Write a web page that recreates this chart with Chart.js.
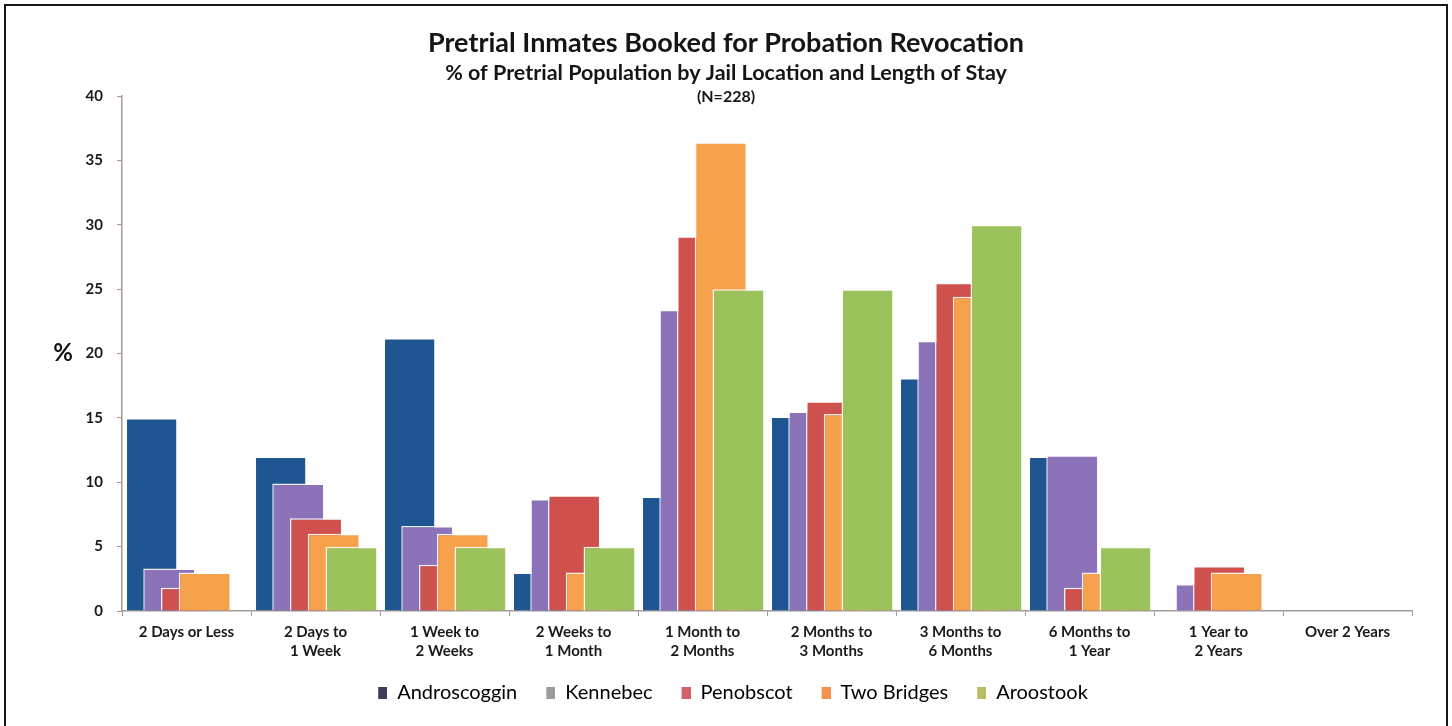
<!DOCTYPE html>
<html>
<head>
<meta charset="utf-8">
<title>Pretrial Inmates Booked for Probation Revocation</title>
<script src="https://cdn.jsdelivr.net/npm/chart.js@4.4.1/dist/chart.umd.min.js"></script>
<style>
  html, body { margin: 0; padding: 0; background: #ffffff; overflow: hidden; }
  #wrap { position: relative; width: 1452px; height: 726px; }
  #frame { position: absolute; left: 4px; top: 4px; width: 1440px; height: 740px;
           border: 2px solid #161616; pointer-events: none; }
</style>
</head>
<body>
<div id="wrap">
  <canvas id="chart"></canvas>
  <div id="frame"></div>
</div>
<script>
// Length-of-stay groups (x axis)
const categories = [
  "2 Days or Less",
  ["2 Days to", "1 Week"],
  ["1 Week to", "2 Weeks"],
  ["2 Weeks to", "1 Month"],
  ["1 Month to", "2 Months"],
  ["2 Months to", "3 Months"],
  ["3 Months to", "6 Months"],
  ["6 Months to", "1 Year"],
  ["1 Year to", "2 Years"],
  "Over 2 Years"
];

// Jail locations
const seriesNames = ["Androscoggin", "Kennebec", "Penobscot", "Two Bridges", "Aroostook"];

// % of each jail's pretrial probation-revocation population per length of stay
const androscoggin = [15.0, 12.0, 21.2, 3.0, 8.9, 15.1, 18.1, 12.0, 0, 0];
const kennebec     = [3.3, 9.9, 6.6, 8.7, 23.4, 15.5, 21.0, 12.1, 2.1, 0];
const penobscot    = [1.8, 7.2, 3.6, 9.0, 29.1, 16.3, 25.5, 1.8, 3.5, 0];
const twoBridges   = [3.0, 6.0, 6.0, 3.0, 36.4, 15.3, 24.4, 3.0, 3.0, 0];
const aroostook    = [0, 5.0, 5.0, 5.0, 25.0, 25.0, 30.0, 5.0, 0, 0];

// y axis ticks
const yTicks = [0, 5, 10, 15, 20, 25, 30, 35, 40];

const barColors    = ["#1f5591", "#8c72b9", "#cf514d", "#f6a14c", "#9cc35b"];
const legendColors = ["#403a5c", "#9b9b9b", "#d4606a", "#f4914f", "#b9bd66"];

const FONT = "Lato, 'Open Sans', 'DejaVu Sans', sans-serif";

const seriesValues = [androscoggin, kennebec, penobscot, twoBridges, aroostook];

const datasets = seriesNames.map((name, i) => ({
  label: name,
  data: seriesValues[i],
  backgroundColor: barColors[i],
  borderColor: "rgba(255,255,255,0.9)",
  borderWidth: { top: 1.5, left: 1.5, right: 0, bottom: 0 },
  borderSkipped: "bottom",
  barPercentage: 2.87,
  categoryPercentage: 0.688
}));

// Legend swatch: small square with some leading space before it
function swatch(color) {
  const c = document.createElement("canvas");
  c.width = 23;
  c.height = 12;
  const g = c.getContext("2d");
  g.fillStyle = color;
  g.fillRect(14, 0, 9, 12);
  return c;
}
const legendSwatches = legendColors.map(swatch);

// Overlapping columns: paint series left to right so each one sits over its neighbour
const seriesOrder = {
  id: "seriesOrder",
  beforeDatasetsDraw(chart) {
    for (let i = 0; i < chart.data.datasets.length; i++) {
      const meta = chart.getDatasetMeta(i);
      if (chart.isDatasetVisible(i)) meta.controller.draw();
    }
    return false;
  }
};

// Axis caption and sample size note
const annotations = {
  id: "annotations",
  afterDraw(chart) {
    const { ctx, chartArea } = chart;
    ctx.save();
    ctx.fillStyle = "#151515";
    ctx.textAlign = "center";
    ctx.textBaseline = "middle";
    ctx.font = "bold 24px " + FONT;
    ctx.fillText("%", chartArea.left - 59, (chartArea.top + chartArea.bottom) / 2);
    ctx.font = "bold 16px " + FONT;
    ctx.fillText("(N=228)", chart.width / 2, 97);
    ctx.restore();
  }
};

new Chart(document.getElementById("chart"), {
  type: "bar",
  data: { labels: categories, datasets },
  plugins: [seriesOrder, annotations],
  options: {
    responsive: true,
    maintainAspectRatio: false,
    animation: false,
    layout: { padding: { left: 40, right: 40, top: 5, bottom: 13 } },
    plugins: {
      title: {
        display: true,
        text: "Pretrial Inmates Booked for Probation Revocation",
        color: "#151515",
        font: { family: FONT, size: 27, weight: "bold", lineHeight: 1 },
        padding: { top: 25, bottom: 5 }
      },
      subtitle: {
        display: true,
        text: "% of Pretrial Population by Jail Location and Length of Stay",
        color: "#151515",
        font: { family: FONT, size: 21.5, weight: "bold", lineHeight: 1 },
        padding: { top: 0, bottom: 12.5 }
      },
      legend: {
        position: "bottom",
        labels: {
          color: "#1a1a1a",
          font: { family: FONT, size: 20 },
          usePointStyle: true,
          pointStyleWidth: 23,
          boxHeight: 12,
          padding: 15,
          generateLabels(chart) {
            return chart.data.datasets.map((ds, i) => ({
              text: ds.label,
              fillStyle: legendColors[i],
              strokeStyle: legendColors[i],
              lineWidth: 0,
              pointStyle: legendSwatches[i],
              hidden: !chart.isDatasetVisible(i),
              datasetIndex: i
            }));
          }
        }
      },
      tooltip: { enabled: false }
    },
    scales: {
      x: {
        grid: {
          display: true,
          drawOnChartArea: false,
          drawTicks: true,
          tickLength: 5,
          color: "#a09a98"
        },
        border: { display: true, color: "#a09a98", width: 1.5 },
        ticks: {
          color: "#1a1a1a",
          padding: 7,
          maxRotation: 0,
          autoSkip: false,
          font: { family: FONT, size: 15, weight: "bold", lineHeight: "19px" }
        }
      },
      y: {
        min: 0,
        max: 40,
        afterBuildTicks(scale) { scale.ticks = yTicks.map(v => ({ value: v })); },
        grid: {
          display: true,
          drawOnChartArea: false,
          drawTicks: true,
          tickLength: 5,
          color: "#a89890"
        },
        border: { display: true, color: "#a89890", width: 1.5 },
        ticks: {
          color: "#1a1a1a",
          padding: 14,
          font: { family: FONT, size: 15, weight: "bold" }
        },
        afterFit(scale) { scale.width = 82; }
      }
    }
  }
});
</script>
</body>
</html>
